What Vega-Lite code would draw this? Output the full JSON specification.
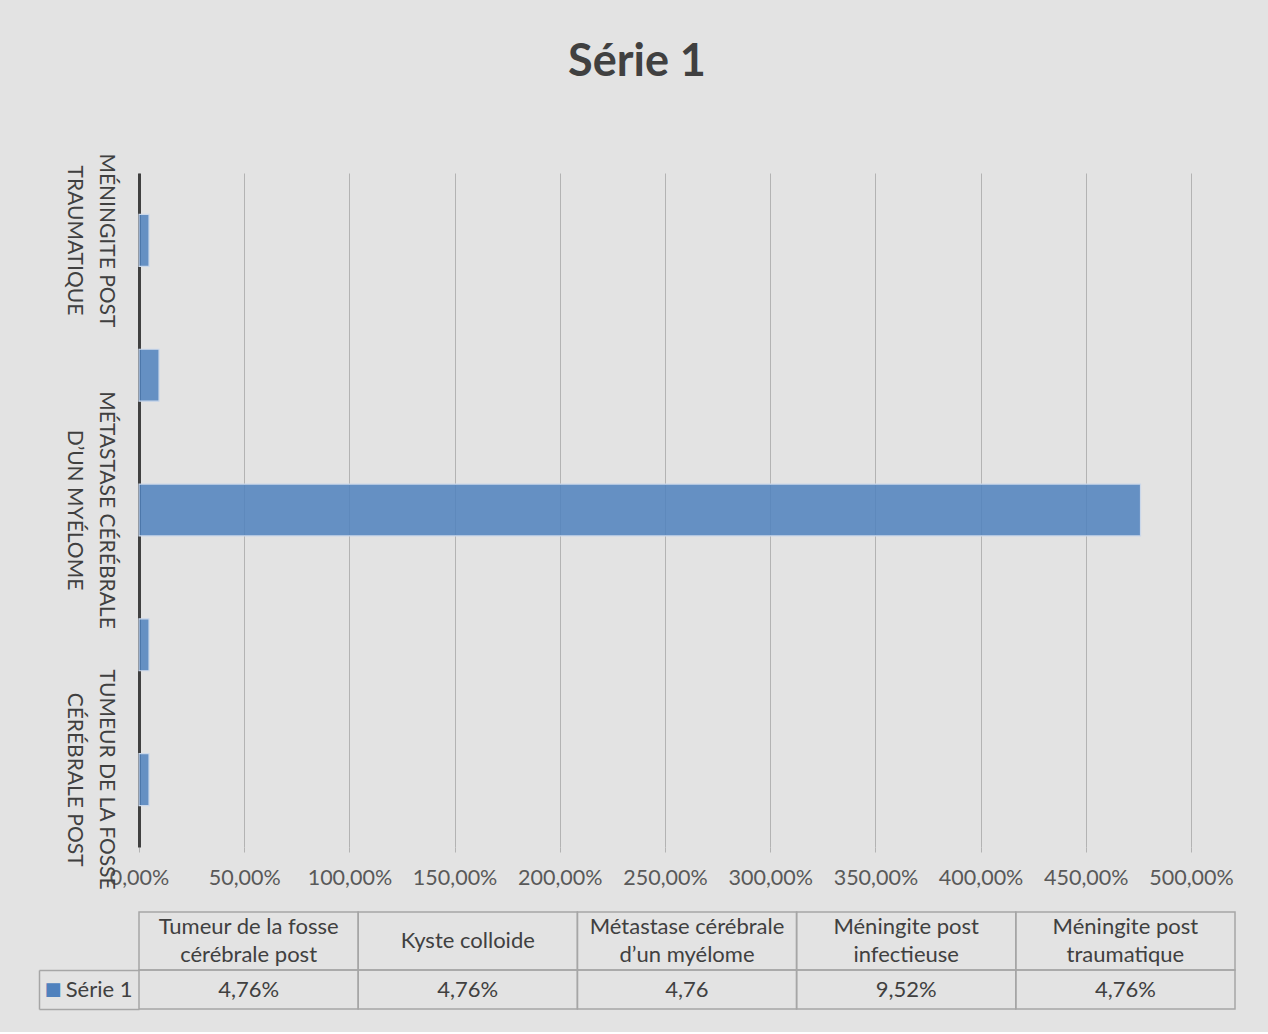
{
  "$schema": "https://vega.github.io/schema/vega-lite/v6.json",
  "background": "#e3e3e3",
  "padding": {"left": 38, "top": 39, "right": 32, "bottom": 22},
  "spacing": 65,
  "bounds": "flush",
  "title": {"text": "Série 1", "font": "Lato", "fontSize": 45, "fontWeight": "bold", "color": "#404040", "anchor": "middle", "offset": 68},
  "config": {
    "view": {"stroke": null},
    "font": "Lato",
    "axis": {"labelFont": "Lato", "labelColor": "#595959"}
  },
  "datasets": {
    "d": [
      {"cat": "Tumeur de la fosse\ncérébrale post", "v": 0.0476, "txt": "4,76%"},
      {"cat": "Kyste colloide", "v": 0.0476, "txt": "4,76%"},
      {"cat": "Métastase cérébrale\nd’un myélome", "v": 4.76, "txt": "4,76"},
      {"cat": "Méningite post\ninfectieuse", "v": 0.0952, "txt": "9,52%"},
      {"cat": "Méningite post\ntraumatique", "v": 0.0476, "txt": "4,76%"}
    ]
  },
  "vconcat": [
    {
      "width": 1052,
      "height": 674,
      "data": {"name": "d"},
      "mark": {"type": "bar", "fill": "#4f81bd", "fillOpacity": 0.85, "stroke": "#cbd8ea", "strokeWidth": 1.2},
      "encoding": {
        "y": {
          "field": "cat", "type": "nominal",
          "sort": ["Méningite post\ntraumatique", "Méningite post\ninfectieuse", "Métastase cérébrale\nd’un myélome", "Kyste colloide", "Tumeur de la fosse\ncérébrale post"],
          "scale": {"paddingInner": 0.615, "paddingOuter": 0.3075},
          "axis": {
            "title": null, "ticks": false, "domain": true, "domainColor": "#404040", "domainWidth": 3,
            "labelAngle": 90, "labelAlign": "center", "labelBaseline": "top", "labelPadding": 23,
            "labelFontSize": 21, "labelColor": "#404040", "labelLineHeight": 32, "labelLimit": 400,
            "labelExpr": "(datum.value == 'Kyste colloide' || datum.value == 'Méningite post\\ninfectieuse') ? '' : split(upper(datum.value), '\\n')"
          }
        },
        "x": {
          "field": "v", "type": "quantitative",
          "scale": {"domain": [0, 5], "nice": false},
          "axis": {
            "title": null, "values": [0, 0.5, 1, 1.5, 2, 2.5, 3, 3.5, 4, 4.5, 5],
            "grid": true, "gridColor": "#b3b3b3", "gridWidth": 1,
            "domain": false, "ticks": true, "tickSize": 5, "tickColor": "#b3b3b3",
            "labelFontSize": 21.5, "labelPadding": 15, "labelFlush": false,
            "labelExpr": "replace(format(datum.value, '.2%'), '.', ',')"
          }
        }
      }
    },
    {
      "spacing": 0,
      "bounds": "flush",
      "vconcat": [
        {
          "width": 1096,
          "height": 58,
          "data": {"name": "d"},
          "encoding": {
            "x": {
              "field": "cat", "type": "nominal",
              "sort": ["Tumeur de la fosse\ncérébrale post", "Kyste colloide", "Métastase cérébrale\nd’un myélome", "Méningite post\ninfectieuse", "Méningite post\ntraumatique"],
              "scale": {"paddingInner": 0, "paddingOuter": 0},
              "axis": null
            }
          },
          "layer": [
            {"mark": {"type": "rect", "fill": "transparent", "stroke": "#a6a6a6", "strokeWidth": 1.5}},
            {"transform": [{"filter": "indexof(datum.cat, '\\n') >= 0"}],
             "mark": {"type": "text", "fontSize": 22, "color": "#404040", "lineBreak": "\n", "lineHeight": 28, "baseline": "middle", "dy": -14},
             "encoding": {"text": {"field": "cat"}}},
            {"transform": [{"filter": "indexof(datum.cat, '\\n') < 0"}],
             "mark": {"type": "text", "fontSize": 22, "color": "#404040", "baseline": "middle"},
             "encoding": {"text": {"field": "cat"}}}
          ]
        },
        {
          "width": 1096,
          "height": 39,
          "data": {"name": "d"},
          "encoding": {
            "x": {
              "field": "cat", "type": "nominal",
              "sort": ["Tumeur de la fosse\ncérébrale post", "Kyste colloide", "Métastase cérébrale\nd’un myélome", "Méningite post\ninfectieuse", "Méningite post\ntraumatique"],
              "scale": {"paddingInner": 0, "paddingOuter": 0},
              "axis": null
            },
            "y": {"datum": "Série 1", "type": "nominal", "scale": {"paddingInner": 0, "paddingOuter": 0}}
          },
          "layer": [
            {
              "mark": {"type": "rect", "fill": "transparent", "stroke": "#a6a6a6", "strokeWidth": 1.5},
              "encoding": {
                "y": {"datum": "Série 1", "type": "nominal", "scale": {"paddingInner": 0, "paddingOuter": 0},
                  "axis": {"title": null, "orient": "left", "domain": false, "ticks": true, "tickBand": "extent", "tickSize": 100, "tickColor": "#a6a6a6", "tickWidth": 1.5,
                    "labelFontSize": 22, "labelColor": "#404040", "labelAlign": "right", "labelPadding": -93}}
              }
            },
            {
              "mark": {"type": "text", "fontSize": 22, "color": "#404040", "baseline": "middle"},
              "encoding": {
                "text": {"field": "txt"},
                "y": {"datum": "Série 1", "type": "nominal",
                  "axis": {"title": null, "orient": "left", "offset": 100, "domain": true, "domainColor": "#a6a6a6", "domainWidth": 1.5, "ticks": false,
                    "labelFont": "DejaVu Sans", "labelFontSize": 18, "labelColor": "#4f81bd", "labelAlign": "left", "labelPadding": -5,
                    "labelExpr": "'■'"}}
              }
            }
          ],
          "resolve": {"axis": {"y": "independent"}}
        }
      ]
    }
  ]
}
